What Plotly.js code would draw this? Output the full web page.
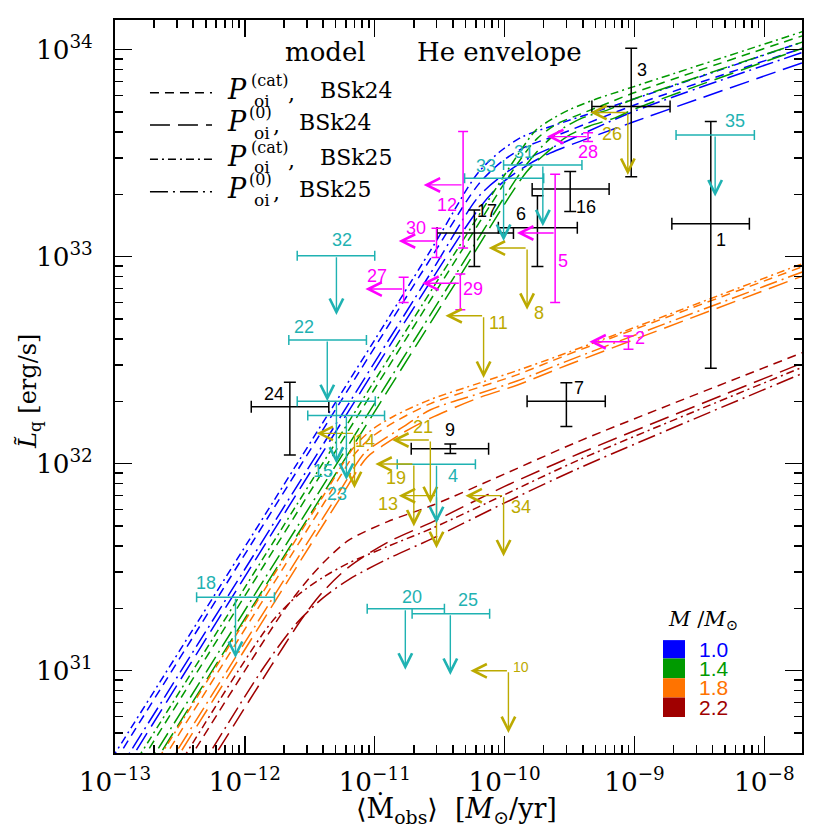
<!DOCTYPE html>
<html><head><meta charset="utf-8">
<script src="https://cdn.plot.ly/plotly-3.0.1.min.js"></script>
<style>html,body{margin:0;padding:0;background:#fff}</style>
</head><body><div id="chart" style="width:830px;height:830px"></div>
<script>
// ---------- model curves (log10 Mdot [Msun/yr], log10 L [erg/s]) ----------
// M = 1.0
const b_c24_M = [-13.06,-10.57,-10.20,-10.02,-9.84,-9.58,-9.01,-7.69];
const b_c24_L = [30.50,32.99,33.35,33.46,33.53,33.59,33.73,34.01];
const b_024_M = [-12.95,-10.57,-10.20,-10.03,-9.83,-9.65,-9.01,-7.69];
const b_024_L = [30.50,32.88,33.23,33.35,33.44,33.50,33.65,33.94];
const b_c25_M = [-13.10,-10.57,-10.21,-10.03,-9.86,-9.59,-9.01,-7.69];
const b_c25_L = [30.50,33.03,33.40,33.51,33.58,33.64,33.76,34.04];
const b_025_M = [-12.99,-10.57,-10.20,-10.00,-9.80,-9.55,-9.01,-7.69];
const b_025_L = [30.50,32.92,33.29,33.40,33.48,33.55,33.70,33.99];
// M = 1.4
const g_c24_M = [-12.86,-10.40,-9.90,-9.75,-9.60,-9.45,-9.25,-9.01,-7.69];
const g_c24_L = [30.50,32.96,33.45,33.57,33.64,33.68,33.73,33.79,34.07];
const g_024_M = [-12.75,-10.40,-9.83,-9.68,-9.52,-9.35,-9.15,-9.01,-7.69];
const g_024_L = [30.50,32.85,33.41,33.50,33.58,33.63,33.67,33.71,34.01];
const g_c25_M = [-12.90,-10.40,-9.90,-9.76,-9.62,-9.50,-9.30,-9.01,-7.69];
const g_c25_L = [30.50,33.00,33.49,33.61,33.67,33.71,33.76,33.82,34.09];
const g_025_M = [-12.79,-10.40,-9.85,-9.70,-9.55,-9.40,-9.20,-9.01,-7.69];
const g_025_L = [30.50,32.89,33.43,33.54,33.62,33.67,33.71,33.76,34.04];
// M = 1.8
const o_c24_M = [-12.70,-11.40,-11.15,-11.02,-10.85,-10.57,-10.19,-9.90,-9.50,-7.69];
const o_c24_L = [30.50,31.80,32.05,32.13,32.20,32.29,32.37,32.43,32.53,32.955];
const o_024_M = [-12.60,-11.28,-11.06,-10.93,-10.78,-10.57,-10.19,-9.90,-9.50,-7.69];
const o_024_L = [30.50,31.82,32.03,32.09,32.15,32.22,32.32,32.38,32.48,32.91];
const o_c25_M = [-12.74,-11.40,-11.16,-11.03,-10.85,-10.57,-10.19,-9.90,-9.50,-7.69];
const o_c25_L = [30.50,31.84,32.08,32.16,32.23,32.31,32.39,32.45,32.54,32.97];
const o_025_M = [-12.635,-11.30,-11.08,-10.95,-10.80,-10.57,-10.19,-9.90,-9.50,-7.69];
const o_025_L = [30.50,31.835,32.05,32.11,32.17,32.26,32.34,32.40,32.50,32.93];
// M = 2.2
const r_c24_M = [-12.50,-12.00,-11.70,-11.50,-11.35,-11.20,-10.90,-10.55,-10.00,-9.42,-7.69];
const r_c24_L = [30.50,31.00,31.29,31.45,31.55,31.63,31.72,31.80,31.95,32.11,32.54];
const r_024_M = [-12.32,-11.80,-11.55,-11.40,-11.20,-10.90,-10.55,-10.00,-9.42,-7.69];
const r_024_L = [30.50,31.02,31.26,31.38,31.50,31.62,31.72,31.89,32.05,32.49];
const r_c25_M = [-12.55,-12.05,-11.80,-11.60,-11.40,-11.20,-10.90,-10.55,-10.00,-9.42,-7.69];
const r_c25_L = [30.50,31.00,31.23,31.36,31.45,31.52,31.60,31.69,31.85,32.02,32.47];
const r_025_M = [-12.37,-11.85,-11.60,-11.40,-11.20,-10.90,-10.55,-10.00,-9.42,-7.69];
const r_025_L = [30.50,31.02,31.23,31.35,31.44,31.54,31.64,31.81,31.98,32.44];

// ---------- observed sources ----------
// black: measured Mdot and L with error bars
const blkId  = ['1','3','6','7','9','16','17','24'];
const blkM   = [3.87e-9, 9.44e-10, 1.79e-10, 2.99e-10, 3.82e-11, 3.20e-10, 5.85e-11, 2.22e-12];
const blkMlo = [1.94e-9, 4.70e-10, 8.95e-11, 1.49e-10, 1.91e-11, 1.63e-10, 3.02e-11, 1.12e-12];
const blkMhi = [7.67e-9, 1.88e-9, 3.63e-10, 5.96e-10, 7.53e-11, 6.38e-10, 1.17e-10, 4.43e-12];
const blkL   = [1.44e33, 5.31e33, 1.38e33, 2.00e32, 1.18e32, 2.12e33, 1.30e33, 1.88e32];
const blkLlo = [2.89e32, 2.43e33, 8.95e32, 1.51e32, 1.12e32, 1.65e33, 8.95e32, 1.10e32];
const blkLhi = [4.49e33, 1.016e34, 1.97e33, 2.46e32, 1.245e32, 2.58e33, 1.68e33, 2.47e32];
// magenta: L with error bar, Mdot upper limit
const magId   = ['2','5','12','27','28','29','30'];
const magM    = [8.99e-10, 2.45e-10, 4.79e-11, 1.67e-11, 4.39e-10, 4.56e-11, 2.99e-11];
const magMtip = [4.49e-10, 1.245e-10, 2.38e-11, 8.47e-12, 2.12e-10, 2.32e-11, 1.53e-11];
const magL    = [3.88e32, 1.30e33, 2.22e33, 6.97e32, 3.80e33, 7.43e32, 1.19e33];
const magLlo  = [3.57e32, 6.00e32, 1.10e33, 6.00e32, 3.60e33, 5.53e32, 9.89e32];
const magLhi  = [4.14e32, 2.50e33, 4.02e33, 7.94e32, 3.97e33, 8.24e32, 1.37e33];
// olive: upper limits on both Mdot and L
const oliId   = ['8','10','11','13','14','19','21','26','34'];
const oliM    = [1.49e-10, 1.07e-10, 6.89e-11, 2.99e-11, 6.98e-12, 2.00e-11, 2.68e-11, 8.89e-10, 9.82e-11];
const oliMtip = [7.53e-11, 5.45e-11, 3.50e-11, 1.53e-11, 3.56e-12, 1.01e-11, 1.36e-11, 4.56e-10, 4.99e-11];
const oliL    = [1.10e33, 9.98e30, 5.18e32, 7.00e31, 1.40e32, 9.95e31, 1.30e32, 4.97e33, 7.00e31];
const oliLtip = [5.53e32, 4.99e30, 2.59e32, 3.90e31, 7.60e31, 4.97e31, 6.44e31, 2.48e33, 3.56e31];
// cyan: Mdot with error bar, L upper limit
const cyaId   = ['4','15','18','20','22','23','25','31','32','33','35'];
const cyaM    = [2.99e-11, 5.07e-12, 8.47e-13, 1.72e-11, 4.31e-12, 6.05e-12, 3.82e-11, 1.97e-10, 5.07e-12, 9.82e-11, 4.18e-9];
const cyaMlo  = [1.49e-11, 2.53e-12, 4.25e-13, 8.75e-12, 2.18e-12, 3.05e-12, 1.94e-11, 9.82e-11, 2.53e-12, 4.92e-11, 2.09e-9];
const cyaMhi  = [5.96e-11, 1.01e-11, 1.69e-12, 3.44e-11, 8.63e-12, 1.19e-11, 7.67e-11, 3.94e-10, 1.00e-11, 2.00e-10, 8.38e-9];
const cyaL    = [9.93e31, 2.00e32, 2.26e31, 1.99e31, 3.96e32, 1.71e32, 1.88e31, 2.77e33, 1.01e33, 2.39e33, 3.87e33];
const cyaLtip = [5.15e31, 1.00e32, 1.15e31, 1.01e31, 2.00e32, 8.34e31, 9.53e30, 1.40e33, 5.22e32, 1.19e33, 1.95e33];

// label offsets in pixels (dx right, dy down) - positional styling only
const blkOff = [[10,16],[11,-37],[-16,-14],[13,-13],[0,-19],[16,18],[13,-22],[-16,-13]];
const magOff = [[12,-4],[8,28],[-16,20],[-27,-13],[0,15],[13,6],[-21,-13]];
const oliOff = [[12,65],[13,-4],[15,7],[-49,8],[11,8],[-18,14],[-7,-13],[-16,22],[17,11]];
const cyaOff = [[16,12],[-13,70],[-30,-14],[7,-12],[-23,-13],[-9,79],[18,-14],[-19,-13],[6,-16],[-18,-12],[20,-14]];

const massLabels = ['1.0','1.4','1.8','2.2'];

// ---------- styles ----------
const COL = {blue:'#0000ff', green:'#009a00', orange:'#ff7300', red:'#a00000'};
const DASH = {c24:'9px,6px', o24:'20px,8px', c25:'8px,4px,2px,4px', o25:'18px,5px,2px,5px'};
const CYAN = '#1fb2b2', MAG = '#ff00ff', OLI = '#bcaa00';
const LW = 1.5;
const SANS = 'Liberation Sans, Arial, sans-serif';
const SERIF = 'DejaVu Serif, serif';

const pw = (a) => a.map(v => Math.pow(10, v));
function curve(M, L, color, dash) {
  return {x: pw(M), y: pw(L), mode:'lines', hoverinfo:'skip',
          line:{color:color, width:LW, dash:dash, shape:'spline', smoothing:0.8}};
}
const traces = [
  curve(b_c24_M,b_c24_L,COL.blue,DASH.c24), curve(b_024_M,b_024_L,COL.blue,DASH.o24),
  curve(b_c25_M,b_c25_L,COL.blue,DASH.c25), curve(b_025_M,b_025_L,COL.blue,DASH.o25),
  curve(g_c24_M,g_c24_L,COL.green,DASH.c24), curve(g_024_M,g_024_L,COL.green,DASH.o24),
  curve(g_c25_M,g_c25_L,COL.green,DASH.c25), curve(g_025_M,g_025_L,COL.green,DASH.o25),
  curve(o_c24_M,o_c24_L,COL.orange,DASH.c24), curve(o_024_M,o_024_L,COL.orange,DASH.o24),
  curve(o_c25_M,o_c25_L,COL.orange,DASH.c25), curve(o_025_M,o_025_L,COL.orange,DASH.o25),
  curve(r_c24_M,r_c24_L,COL.red,DASH.c24), curve(r_024_M,r_024_L,COL.red,DASH.o24),
  curve(r_c25_M,r_c25_L,COL.red,DASH.c25), curve(r_025_M,r_025_L,COL.red,DASH.o25)
];

const invis = {size:2, color:'rgba(0,0,0,0)'};
traces.push({x:blkM, y:blkL, mode:'markers', marker:invis, hoverinfo:'skip',
  error_x:{type:'data', symmetric:false, array:blkM.map((v,i)=>blkMhi[i]-v), arrayminus:blkM.map((v,i)=>v-blkMlo[i]), color:'black', thickness:1.5, width:6},
  error_y:{type:'data', symmetric:false, array:blkL.map((v,i)=>blkLhi[i]-v), arrayminus:blkL.map((v,i)=>v-blkLlo[i]), color:'black', thickness:1.5, width:6}});
traces.push({x:magM, y:magL, mode:'markers', marker:invis, hoverinfo:'skip',
  error_y:{type:'data', symmetric:false, array:magL.map((v,i)=>magLhi[i]-v), arrayminus:magL.map((v,i)=>v-magLlo[i]), color:MAG, thickness:1.5, width:5}});
traces.push({x:cyaM, y:cyaL, mode:'markers', marker:invis, hoverinfo:'skip',
  error_x:{type:'data', symmetric:false, array:cyaM.map((v,i)=>cyaMhi[i]-v), arrayminus:cyaM.map((v,i)=>v-cyaMlo[i]), color:CYAN, thickness:1.5, width:5}});

const lg = Math.log10;
const ann = [];
function arrow(tipX, tipY, tailX, tailY, color) {
  ann.push({x:lg(tipX), y:lg(tipY), ax:lg(tailX), ay:lg(tailY), xref:'x', yref:'y', axref:'x', ayref:'y',
    text:'', showarrow:true, arrowhead:5, arrowsize:1.9, arrowwidth:1.4, arrowcolor:color});
}
function label(txt, x, y, off, color, size) {
  ann.push({x:lg(x), y:lg(y), xref:'x', yref:'y', text:txt, showarrow:false, xanchor:'center', yanchor:'middle',
    xshift:off[0], yshift:-off[1], font:{family:SANS, size:size||18, color:color}});
}
blkId.forEach((id,i)=>label(id, blkM[i], blkL[i], blkOff[i], 'black'));
magId.forEach((id,i)=>{ arrow(magMtip[i], magL[i], magM[i], magL[i], MAG); label(id, magM[i], magL[i], magOff[i], MAG); });
oliId.forEach((id,i)=>{
  arrow(oliMtip[i], oliL[i], oliM[i], oliL[i], OLI);
  arrow(oliM[i], oliLtip[i], oliM[i], oliL[i], OLI);
  label(id, oliM[i], oliL[i], oliOff[i], OLI, id==='10'?14:18);
});
cyaId.forEach((id,i)=>{ arrow(cyaM[i], cyaLtip[i], cyaM[i], cyaL[i], CYAN); label(id, cyaM[i], cyaL[i], cyaOff[i], CYAN); });

// ---------- text in paper coords (explicit anchors) ----------
function ptext(txt, x, y, size, opts) {
  ann.push(Object.assign({x:x, y:y, xref:'paper', yref:'paper', text:txt, showarrow:false,
    xanchor:'center', yanchor:'middle', font:{family:SERIF, size:size, color:'black'}}, opts||{}));
}
ptext('model', 0.3071, 0.9563, 26);
ptext('He envelope', 0.559, 0.9563, 26);
const rowY = [0.9008, 0.8568, 0.8100, 0.7658];
const legSup = ['(cat)','(0)','(cat)','(0)'];
const legEos = ['BSk24','BSk24','BSk25','BSk25'];
const legDash = [DASH.c24, DASH.o24, DASH.c25, DASH.o25];
const shapes = [];
rowY.forEach((y,r)=>{
  const cat = (r%2===0);
  shapes.push({type:'line', xref:'paper', yref:'paper', x0:0.0509, x1:0.1412, y0:y, y1:y,
    line:{color:'black', width:LW, dash:legDash[r]}});
  ptext('<i>P</i>', 0.1776, y, 27, {yshift:3});
  ptext(legSup[r], cat?0.2242:0.2125, y, 16, {yshift:12});
  ptext('oi', 0.2140, y, 17, {yshift:-8});
  ptext(',', cat?0.2576:0.2358, y, 22, {yshift:-1});
  ptext(legEos[r], cat?0.2955:0.2649, y, 22, {xanchor:'left', yshift:2});
});
// axis titles
ptext('<i>L\u0303</i><sub>q</sub> [erg/s]', -0.1237, 0.4925, 24, {textangle:-90});
ptext('\u27E8\u1E40<sub>obs</sub>\u27E9  [<i>M</i><sub>\u2299</sub>/yr]', 0.4978, -0.0778, 27);
// mass legend
ptext('<i>M</i> /<i>M</i><sub>\u2299</sub>', 0.856, 0.1814, 21);
const sqY = [0.154, 0.129, 0.102, 0.0757, 0.0491];
const massCols = [COL.blue, COL.green, COL.orange, COL.red];
massCols.forEach((c,i)=>{
  shapes.push({type:'rect', xref:'paper', yref:'paper', x0:0.7977, x1:0.8297, y0:sqY[i+1], y1:sqY[i],
    fillcolor:c, line:{width:0}});
  ann.push({x:0.847, y:(sqY[i]+sqY[i+1])/2, xref:'paper', yref:'paper', xanchor:'left', yanchor:'middle',
    text:massLabels[i], showarrow:false, font:{family:SANS, size:21, color:c}});
});

const axisCommon = {type:'log', showgrid:false, zeroline:false, showline:true, linecolor:'black', linewidth:2,
  mirror:'allticks', ticks:'inside', ticklen:17, tickwidth:1.5, tickcolor:'black', dtick:1,
  exponentformat:'power', tickfont:{family:SERIF, size:21, color:'black'},
  minor:{ticks:'inside', ticklen:8, tickwidth:1.5, tickcolor:'black', dtick:'D1', showgrid:false}};

const layout = {
  width:830, height:830, margin:{l:115, r:28, t:20, b:77},
  paper_bgcolor:'white', plot_bgcolor:'white', showlegend:false,
  font:{family:SERIF, color:'black'},
  xaxis:Object.assign({}, axisCommon, {range:[-13.0, -7.71], ticklabelstandoff:6}),
  yaxis:Object.assign({}, axisCommon, {range:[30.602, 34.143], ticklabelstandoff:16}),
  annotations:ann, shapes:shapes
};
Plotly.newPlot('chart', traces, layout, {staticPlot:true, displayModeBar:false});
</script></body></html>
